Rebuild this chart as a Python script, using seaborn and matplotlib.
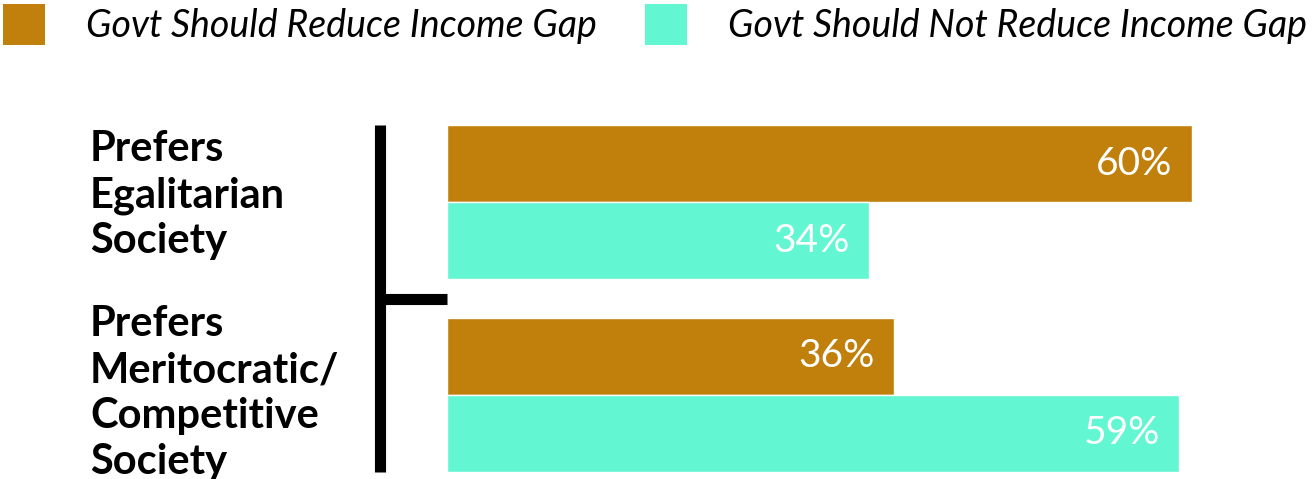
import matplotlib
matplotlib.use("Agg")
import matplotlib.pyplot as plt
import matplotlib.transforms as mtransforms
import seaborn as sns
import pandas as pd
from matplotlib.patches import Patch

# ====== DATA ======
categories = ["Prefers\nEgalitarian\nSociety", "Prefers\nMeritocratic/\nCompetitive\nSociety"]
series = ["Govt Should Reduce Income Gap", "Govt Should Not Reduce Income Gap"]
reduce_vals = [60, 36]
not_reduce_vals = [34, 59]
colors = ["#C17F0B", "#63F6D3"]

df = pd.DataFrame({
    "category": categories * 2,
    "series": [series[0]] * 2 + [series[1]] * 2,
    "value": reduce_vals + not_reduce_vals,
})

sns.set_style("white")
plt.rcParams["font.family"] = ["Lato", "DejaVu Sans"]
plt.rcParams["text.color"] = "black"

fig = plt.figure(figsize=(13.15, 4.79), dpi=100)
ax = fig.add_axes([447 / 1315, 7 / 479, 869 / 1315, 347 / 479])

sns.barplot(data=df, x="value", y="category", hue="series", orient="h",
            palette=colors, order=categories, hue_order=series,
            width=0.8, saturation=1, ax=ax, legend=False)

ax.set_xlim(0, 70)
ax.set_ylim(1.4, -0.4)
ax.set_xlabel("")
ax.set_ylabel("")
ax.set_xticks([])
ax.set_yticks([0.5])
ax.set_yticklabels([])
ax.tick_params(axis="y", direction="in", length=48, width=8, color="black", left=True)
for s in ["top", "right", "bottom"]:
    ax.spines[s].set_visible(False)
ax.spines["left"].set_position(("outward", 48))
ax.spines["left"].set_linewidth(8)
ax.spines["left"].set_color("black")
ax.spines["left"].set_capstyle("butt")

# value labels inside bar ends
for cont in ax.containers:
    anns = ax.bar_label(cont, labels=[f"{v:.0f}%" for v in cont.datavalues],
                        padding=-14, color="white", fontsize=28)
    for a in anns:
        a.set_ha("right")

# category labels at left (nudged up a little, as in the original)
trans = mtransforms.blended_transform_factory(fig.transFigure, ax.transData)
for i, (cat, nudge) in enumerate(zip(categories, [-0.035, -0.01])):
    ax.text(90 / 1315, i + nudge, cat, transform=trans, ha="left", va="center",
            fontsize=30, fontweight="bold", linespacing=1.25, color="black")

handles = [Patch(facecolor=c, edgecolor="none") for c in colors]
fig.legend(handles, series, loc="upper left", bbox_to_anchor=(0.002, 0.992), ncol=2,
           frameon=False, borderaxespad=0, borderpad=0,
           prop={"style": "italic", "size": 27},
           handlelength=1.12, handleheight=1.31, handletextpad=1.09, columnspacing=1.3)

fig.savefig("out.png", dpi=100)
